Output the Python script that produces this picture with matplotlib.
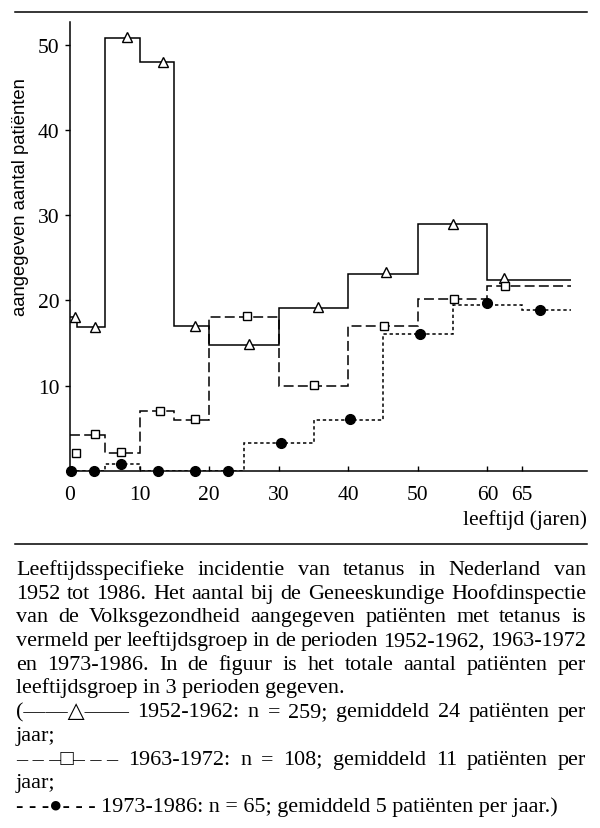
import matplotlib.pyplot as plt
from matplotlib.lines import Line2D

plt.rcParams['font.family'] = ['Liberation Serif', 'DejaVu Serif', 'DejaVu Sans']

# 1952-1962 (driehoekjes, doorgetrokken lijn)
p1_edges = [0, 1, 5, 10, 15, 20, 30, 40, 50, 60, 72]
p1_levels = [18.0, 16.9, 50.8, 48.0, 17.0, 14.7, 19.1, 23.1, 29.0, 22.4]
p1_mx = [0.7, 3.6, 8.2, 13.4, 17.9, 25.7, 35.6, 45.4, 55.1, 62.3]
p1_my = [18.0, 16.9, 50.9, 48.0, 17.0, 14.9, 19.2, 23.3, 29.0, 22.6]

# 1963-1972 (vierkantjes, lange streepjes)
p2_edges = [0, 5, 10, 15, 20, 30, 40, 50, 60, 72]
p2_levels = [4.2, 2.1, 7.0, 6.0, 18.0, 10.0, 17.0, 20.1, 21.7]
p2_mx = [0.9, 3.6, 7.4, 12.9, 17.9, 25.4, 35.0, 45.1, 55.2, 62.5]
p2_my = [2.1, 4.3, 2.2, 7.0, 6.1, 18.1, 10.1, 17.0, 20.2, 21.7]

# 1973-1986 (bolletjes, korte streepjes)
p3_edges = [0, 1, 5, 10, 15, 20, 25, 35, 45, 55, 65, 72]
p3_levels = [0, 0, 0.8, 0, 0, 0, 3.2, 6.0, 16.0, 19.5, 18.9]
p3_mx = [0.2, 3.4, 7.4, 12.7, 17.9, 22.7, 30.3, 40.3, 50.3, 60.0, 67.5]
p3_my = [0, 0, 0.8, 0, 0, 0, 3.3, 6.1, 16.0, 19.7, 18.9]

x_ticks = [0, 10, 20, 30, 40, 50, 60, 65]
y_ticks = [10, 20, 30, 40, 50]

caption = [
    ("Leeftijdsspecifieke incidentie van tetanus in Nederland van", True),
    ("1952 tot 1986. Het aantal bij de Geneeskundige Hoofdinspectie", True),
    ("van de Volksgezondheid aangegeven patiënten met tetanus is", True),
    ("vermeld per leeftijdsgroep in de perioden 1952-1962, 1963-1972", True),
    ("en 1973-1986. In de figuur is het totale aantal patiënten per", True),
    ("leeftijdsgroep in 3 perioden gegeven.", False),
    ("(——△—— 1952-1962: n = 259; gemiddeld 24 patiënten per", True),
    ("jaar;", False),
    ("–\u00a0–\u00a0–□–\u00a0–\u00a0– 1963-1972: n = 108; gemiddeld 11 patiënten per", True),
    ("jaar;", False),
    ("-\u00a0-\u00a0-●-\u00a0-\u00a0- 1973-1986: n = 65; gemiddeld 5 patiënten per jaar.)", False),
]

W, H = 600, 829
fig = plt.figure(figsize=(W / 100, H / 100), dpi=100)

# assenstelsel: links 70 px, nullijn op 471.7 px, top op 22.7 px
ax = fig.add_axes([70 / W, (H - 471.7) / H, 517 / W, (471.7 - 22.7) / H])
ax.set_xlim(0, 74.3)
ax.set_ylim(0, 52.7)

ax.stairs(p1_levels, p1_edges, baseline=None, color='black', lw=1.1)
ax.stairs(p2_levels, p2_edges, baseline=None, color='black', lw=1.1,
          linestyle=(0, (6.5, 2.8)))
ax.stairs(p3_levels, p3_edges, baseline=None, color='black', lw=1.1,
          linestyle=(0, (2.2, 1.8)))

ax.plot(p1_mx, p1_my, ls='none', marker='^', ms=6.5, mfc='white', mec='black',
        mew=1.0, clip_on=False, zorder=4)
ax.plot(p2_mx, p2_my, ls='none', marker='s', ms=6, mfc='white', mec='black',
        mew=1.0, clip_on=False, zorder=4)
ax.plot(p3_mx, p3_my, ls='none', marker='o', ms=7, mfc='black', mec='black',
        clip_on=False, zorder=5)

for side in ['top', 'right']:
    ax.spines[side].set_visible(False)
for side in ['left', 'bottom']:
    ax.spines[side].set_linewidth(1.1)

ax.set_xticks(x_ticks)
ax.set_xticklabels([str(t) for t in x_ticks])
ax.set_yticks(y_ticks)
ax.set_yticklabels([str(t) for t in y_ticks])
ax.tick_params(axis='x', direction='in', length=3.5, width=1.0, pad=10, labelsize=15.5)
ax.tick_params(axis='y', direction='out', length=3.5, width=1.0, pad=4, labelsize=15.5)

fig.text(587 / W, 1 - 520 / H, 'leeftijd (jaren)', ha='right', va='center', fontsize=15.5)
fig.text(21 / W, 1 - 197.5 / H, 'aangegeven aantal patiënten', rotation=90,
         ha='center', va='center', family='Liberation Sans', fontsize=13.3)

# horizontale lijnen boven en onder de figuur
for yy in [12.7, 545]:
    fig.add_artist(Line2D([15 / W, 587 / W], [1 - yy / H, 1 - yy / H],
                          transform=fig.transFigure, color='black', lw=1.1))

# onderschrift, uitgevuld
renderer = fig.canvas.get_renderer()
fam = ['Liberation Serif', 'DejaVu Sans']


def text_width(s, size):
    t = fig.text(0, 0, s, fontsize=size, family=fam)
    w = t.get_window_extent(renderer).width
    t.remove()
    return w


left, right = 16, 586
target = right - left
min_gap = 0.22 * 10 * 100 / 72  # kleinste woordafstand bij 10 pt, in px
scales = []
for s, just in caption:
    if just:
        words = s.split(' ')
        total = sum(text_width(w, 10) for w in words) + (len(words) - 1) * min_gap
        scales.append(target / total)
fs = min(16.0, 10 * min(scales))

base = 575
step = 23.7
for i, (line, just) in enumerate(caption):
    yb = 1 - (base + i * step) / H
    if not just:
        fig.text(left / W, yb, line, fontsize=fs, family=fam, ha='left', va='baseline')
        continue
    words = line.split(' ')
    widths = [text_width(w, fs) for w in words]
    gap = (target - sum(widths)) / (len(words) - 1)
    x = left
    for w, wd in zip(words, widths):
        fig.text(x / W, yb, w, fontsize=fs, family=fam, ha='left', va='baseline')
        x += wd + gap

fig.savefig('out.png', dpi=100)
